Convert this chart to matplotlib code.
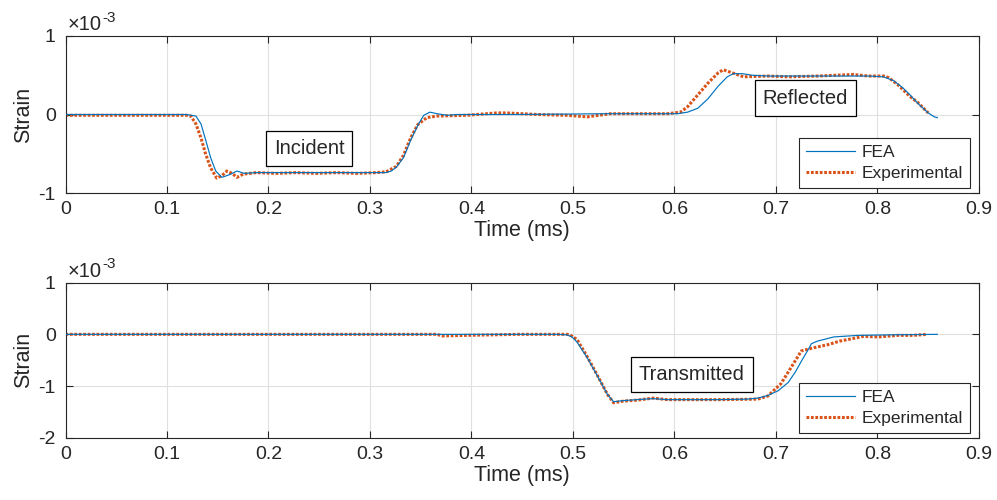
import matplotlib
matplotlib.use("Agg")
import matplotlib.pyplot as plt
import numpy as np
from matplotlib.ticker import MultipleLocator, FuncFormatter

plt.rcParams['font.family'] = ['Liberation Sans', 'DejaVu Sans']
plt.rcParams['axes.unicode_minus'] = False

BLUE = '#0072BD'
ORANGE = '#D95319'
AXC = '#262626'

# ---- Incident / reflected gauge (strain in units of 1e-3, time in ms) ----
top_fea_t = [0, 0.05, 0.10, 0.119, 0.1285, 0.1335, 0.138, 0.143, 0.148, 0.154, 0.161, 0.169,
             0.176, 0.188, 0.247, 0.297, 0.316, 0.321, 0.326, 0.333, 0.340, 0.347, 0.353,
             0.359, 0.366, 0.376, 0.386, 0.445, 0.534, 0.593, 0.603, 0.613, 0.623, 0.633,
             0.643, 0.652, 0.658, 0.667, 0.677, 0.692, 0.741, 0.791, 0.806, 0.816, 0.825,
             0.832, 0.840, 0.850, 0.856, 0.859]
top_fea = [0, 0, 0, 0, -0.02, -0.12, -0.32, -0.55, -0.72, -0.80, -0.77, -0.72,
           -0.75, -0.74, -0.74, -0.74, -0.74, -0.72, -0.67, -0.55, -0.33, -0.14, -0.01,
           0.03, 0.01, -0.01, 0.0, 0.0, 0.01, 0.01, 0.01, 0.03, 0.08, 0.20,
           0.36, 0.48, 0.52, 0.52, 0.50, 0.49, 0.49, 0.49, 0.48, 0.43, 0.34,
           0.25, 0.14, 0.02, -0.03, -0.04]

top_exp_t = [0, 0.05, 0.10, 0.119, 0.1235, 0.1285, 0.1335, 0.138, 0.143, 0.149, 0.154, 0.159,
             0.164, 0.169, 0.175, 0.188, 0.208, 0.227, 0.247, 0.267, 0.287, 0.306, 0.316,
             0.326, 0.333, 0.340, 0.347, 0.356, 0.366, 0.395, 0.425, 0.435, 0.465, 0.494,
             0.514, 0.537, 0.554, 0.593, 0.606, 0.613, 0.623, 0.633, 0.643, 0.648, 0.657,
             0.668, 0.692, 0.712, 0.741, 0.776, 0.791, 0.806, 0.811, 0.820, 0.832, 0.840,
             0.850]
top_exp = [-0.01, -0.01, -0.01, -0.01, -0.02, -0.12, -0.30, -0.50, -0.68, -0.81, -0.78, -0.72,
           -0.75, -0.80, -0.76, -0.74, -0.75, -0.74, -0.75, -0.74, -0.75, -0.74, -0.73,
           -0.66, -0.52, -0.30, -0.13, -0.04, -0.02, -0.01, 0.02, 0.02, 0.0, -0.01,
           -0.03, 0.01, 0.01, 0.01, 0.03, 0.10, 0.25, 0.40, 0.53, 0.57, 0.53,
           0.48, 0.49, 0.48, 0.49, 0.51, 0.49, 0.49, 0.47, 0.38, 0.23, 0.15,
           0.02]

# ---- Transmitted gauge ----
bot_fea_t = [0, 0.10, 0.20, 0.30, 0.40, 0.484, 0.494, 0.499, 0.504, 0.514, 0.524, 0.534,
             0.540, 0.549, 0.563, 0.579, 0.593, 0.643, 0.672, 0.682, 0.692, 0.702, 0.712,
             0.719, 0.725, 0.731, 0.735, 0.741, 0.747, 0.757, 0.781, 0.811, 0.859]
bot_fea = [0, 0, 0, 0, 0, 0, -0.01, -0.05, -0.15, -0.45, -0.80, -1.16,
           -1.30, -1.28, -1.26, -1.24, -1.26, -1.26, -1.25, -1.23, -1.18, -1.09, -0.93,
           -0.73, -0.52, -0.32, -0.18, -0.13, -0.10, -0.05, -0.02, -0.01, 0.0]

bot_exp_t = [0, 0.10, 0.20, 0.30, 0.366, 0.371, 0.395, 0.445, 0.494, 0.497, 0.504, 0.514,
             0.524, 0.534, 0.540, 0.549, 0.563, 0.579, 0.593, 0.643, 0.682, 0.692, 0.705,
             0.712, 0.719, 0.725, 0.737, 0.751, 0.763, 0.776, 0.786, 0.801, 0.820, 0.835,
             0.849]
bot_exp = [0, 0, 0, 0, 0, -0.03, -0.02, 0, 0, -0.01, -0.10, -0.43,
           -0.79, -1.16, -1.32, -1.29, -1.27, -1.23, -1.26, -1.26, -1.25, -1.19, -0.95,
           -0.73, -0.51, -0.32, -0.26, -0.20, -0.13, -0.08, -0.04, -0.05, -0.02, -0.02,
           0.0]

labels = ['FEA', 'Experimental']

fig = plt.figure(figsize=(9.97, 5.0), dpi=100)
ax1 = fig.add_axes([0.0657, 0.614, 0.9162, 0.314])
ax2 = fig.add_axes([0.0657, 0.124, 0.9162, 0.311])


def style_axes(ax, ylim, yticks):
    ax.set_xlim(0, 0.9)
    ax.set_ylim(ylim[0] * 1e-3, ylim[1] * 1e-3)
    ax.xaxis.set_major_locator(MultipleLocator(0.1))
    ax.set_yticks([v * 1e-3 for v in yticks])
    ax.yaxis.set_major_formatter(FuncFormatter(lambda v, p: '%d' % round(v * 1e3)))
    ax.xaxis.set_major_formatter(FuncFormatter(
        lambda v, p: '0' if abs(v) < 1e-9 else ('%.1f' % v)))
    ax.grid(True, color='#e0e0e0', linewidth=0.8)
    ax.set_axisbelow(True)
    ax.tick_params(direction='in', top=True, right=True, length=5, width=0.8,
                   colors=AXC, labelsize=14)
    ax.tick_params(axis='x', pad=6)
    ax.tick_params(axis='y', pad=7)
    for s in ax.spines.values():
        s.set_color(AXC)
        s.set_linewidth(0.8)
    ax.set_xlabel('Time (ms)', fontsize=15.5, color=AXC, labelpad=1)
    ax.set_ylabel('Strain', fontsize=15.5, color=AXC, labelpad=3)
    # exponent label for the y axis
    base = ax.text(0.002, 1.012, '\u00d710', transform=ax.transAxes,
                   ha='left', va='bottom', fontsize=14.5, color=AXC)
    ax.annotate('-3', xy=(1.0, 1.0), xycoords=base, xytext=(0.5, 3),
                textcoords='offset points', ha='left', va='top',
                fontsize=11, color=AXC)


def draw(ax, ft, fv, et, ev):
    ax.plot(ft, np.array(fv) * 1e-3, color=BLUE, lw=0.85, label=labels[0], zorder=3)
    ax.plot(et, np.array(ev) * 1e-3, color=ORANGE, lw=2.2, linestyle=(0, (0.9, 0.55)),
            dash_capstyle='butt', label=labels[1], zorder=2)
    leg = ax.legend(loc='lower right', bbox_to_anchor=(0.990, 0.032), borderaxespad=0,
                    fontsize=12.5, frameon=True, fancybox=False, edgecolor=AXC,
                    handlelength=2.8, labelspacing=0.35, borderpad=0.4,
                    handletextpad=0.4, framealpha=1)
    leg.get_frame().set_linewidth(0.8)
    for t in leg.get_texts():
        t.set_color(AXC)


draw(ax1, top_fea_t, top_fea, top_exp_t, top_exp)
style_axes(ax1, (-1, 1), [-1, 0, 1])
draw(ax2, bot_fea_t, bot_fea, bot_exp_t, bot_exp)
style_axes(ax2, (-2, 1), [-2, -1, 0, 1])

box = dict(boxstyle='square,pad=0.4', facecolor='white', edgecolor='black', linewidth=0.9)
ax1.text(0.240, -0.43e-3, 'Incident', ha='center', va='center', fontsize=14.5, color=AXC, bbox=box)
ax1.text(0.729, 0.21e-3, 'Reflected', ha='center', va='center', fontsize=14.5, color=AXC, bbox=box)
ax2.text(0.617, -0.78e-3, 'Transmitted', ha='center', va='center', fontsize=14.5, color=AXC, bbox=box)

fig.savefig('out.png', dpi=100, facecolor='white')
